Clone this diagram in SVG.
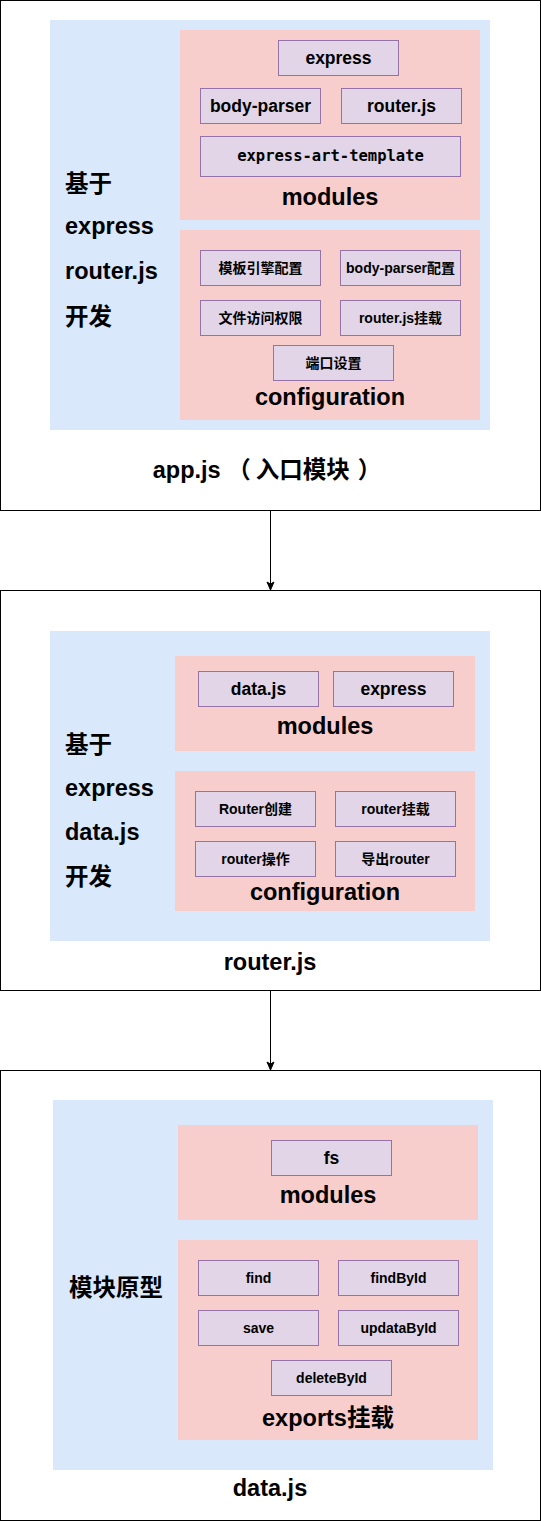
<svg xmlns="http://www.w3.org/2000/svg" width="541" height="1521" viewBox="0 0 541 1521">
<defs>
<style>
.outer{fill:#ffffff;stroke:#000000;stroke-width:1}
.blue{fill:#dae8fc;stroke:none}
.red{fill:#f8cecc;stroke:none}
.item{fill:#e1d5e7;stroke:#9673a6;stroke-width:1}
text{font-family:"Liberation Sans","Noto Sans CJK SC",sans-serif;font-weight:bold;fill:#000000}
.big{font-size:23.5px}
.mid{font-size:17.5px;text-anchor:middle}
.sm{font-size:14px;text-anchor:middle}
.mono{font-family:"DejaVu Sans Mono","Liberation Mono",monospace;font-size:15.5px;text-anchor:middle}
.c{text-anchor:middle}
.edge{stroke:#000000;stroke-width:1;fill:none}
</style>
<marker id="arrow" markerUnits="userSpaceOnUse" viewBox="-9 -5 10 10" refX="0" refY="0" markerWidth="10" markerHeight="10" orient="auto">
<path d="M0,0 L-8,-3.5 L-6,0 L-8,3.5 Z" fill="#000000" stroke="#000000" stroke-width="1"/>
</marker>
</defs>

<g id="appjs">
<rect class="outer" x="0.5" y="0.5" width="540" height="510"/>
<rect class="blue" x="50" y="20" width="440" height="410"/>
<text class="big" x="65" y="192">基于</text>
<text class="big" x="65" y="234">express</text>
<text class="big" x="65" y="279">router.js</text>
<text class="big" x="65" y="325">开发</text>
<text class="big c" x="267" y="478">app.js （<tspan dx="5">入口模块</tspan><tspan dx="8">）</tspan></text>
</g>
<g id="appjs-modules">
<rect class="red" x="180" y="30" width="300" height="190"/>
<rect class="item" x="278.5" y="40.5" width="120" height="35"/>
<text class="mid" x="338.5" y="64">express</text>
<rect class="item" x="200.5" y="88.5" width="120" height="35"/>
<text class="mid" x="260.5" y="112">body-parser</text>
<rect class="item" x="341.5" y="88.5" width="120" height="35"/>
<text class="mid" x="401.5" y="112">router.js</text>
<rect class="item" x="200.5" y="136.5" width="260" height="40"/>
<text class="mono" x="330.5" y="161">express-art-template</text>
<text class="big c" x="330" y="205">modules</text>
</g>
<g id="appjs-config">
<rect class="red" x="180" y="230" width="300" height="190"/>
<rect class="item" x="200.5" y="250.5" width="120" height="35"/>
<text class="sm" x="260.5" y="273">模板引擎配置</text>
<rect class="item" x="340.5" y="250.5" width="120" height="35"/>
<text class="sm" x="400.5" y="273">body-parser配置</text>
<rect class="item" x="200.5" y="300.5" width="120" height="35"/>
<text class="sm" x="260.5" y="323">文件访问权限</text>
<rect class="item" x="340.5" y="300.5" width="120" height="35"/>
<text class="sm" x="400.5" y="323">router.js挂载</text>
<rect class="item" x="273.5" y="345.5" width="120" height="35"/>
<text class="sm" x="333.5" y="368">端口设置</text>
<text class="big c" x="330" y="405">configuration</text>
</g>

<g id="routerjs">
<rect class="outer" x="0.5" y="590.5" width="540" height="400"/>
<rect class="blue" x="50" y="631" width="440" height="310"/>
<text class="big" x="65" y="753">基于</text>
<text class="big" x="65" y="796">express</text>
<text class="big" x="65" y="840">data.js</text>
<text class="big" x="65" y="885">开发</text>
<text class="big c" x="270" y="970">router.js</text>
</g>
<g id="routerjs-modules">
<rect class="red" x="175" y="656" width="300" height="95"/>
<rect class="item" x="198.5" y="671.5" width="120" height="35"/>
<text class="mid" x="258.5" y="695">data.js</text>
<rect class="item" x="333.5" y="671.5" width="120" height="35"/>
<text class="mid" x="393.5" y="695">express</text>
<text class="big c" x="325" y="734">modules</text>
</g>
<g id="routerjs-config">
<rect class="red" x="175" y="771" width="300" height="140"/>
<rect class="item" x="195.5" y="791.5" width="120" height="35"/>
<text class="sm" x="255.5" y="814">Router创建</text>
<rect class="item" x="335.5" y="791.5" width="120" height="35"/>
<text class="sm" x="395.5" y="814">router挂载</text>
<rect class="item" x="195.5" y="841.5" width="120" height="35"/>
<text class="sm" x="255.5" y="864">router操作</text>
<rect class="item" x="335.5" y="841.5" width="120" height="35"/>
<text class="sm" x="395.5" y="864">导出router</text>
<text class="big c" x="325" y="900">configuration</text>
</g>

<g id="datajs">
<rect class="outer" x="0.5" y="1070.5" width="540" height="450"/>
<rect class="blue" x="53" y="1100" width="440" height="370"/>
<text class="big" x="69" y="1296">模块原型</text>
<text class="big c" x="270" y="1496">data.js</text>
</g>
<g id="datajs-modules">
<rect class="red" x="178" y="1125" width="300" height="95"/>
<rect class="item" x="271.5" y="1140.5" width="120" height="35"/>
<text class="mid" x="331.5" y="1164">fs</text>
<text class="big c" x="328" y="1203">modules</text>
</g>
<g id="datajs-exports">
<rect class="red" x="178" y="1240" width="300" height="200"/>
<rect class="item" x="198.5" y="1260.5" width="120" height="35"/>
<text class="sm" x="258.5" y="1283">find</text>
<rect class="item" x="338.5" y="1260.5" width="120" height="35"/>
<text class="sm" x="398.5" y="1283">findById</text>
<rect class="item" x="198.5" y="1310.5" width="120" height="35"/>
<text class="sm" x="258.5" y="1333">save</text>
<rect class="item" x="338.5" y="1310.5" width="120" height="35"/>
<text class="sm" x="398.5" y="1333">updataById</text>
<rect class="item" x="271.5" y="1360.5" width="120" height="35"/>
<text class="sm" x="331.5" y="1383">deleteById</text>
<text class="big c" x="328" y="1426">exports挂载</text>
</g>

<g id="connectors">
<path class="edge" d="M270.5,511 L270.5,590" marker-end="url(#arrow)"/>
<path class="edge" d="M270.5,991 L270.5,1070" marker-end="url(#arrow)"/>
</g>
</svg>
